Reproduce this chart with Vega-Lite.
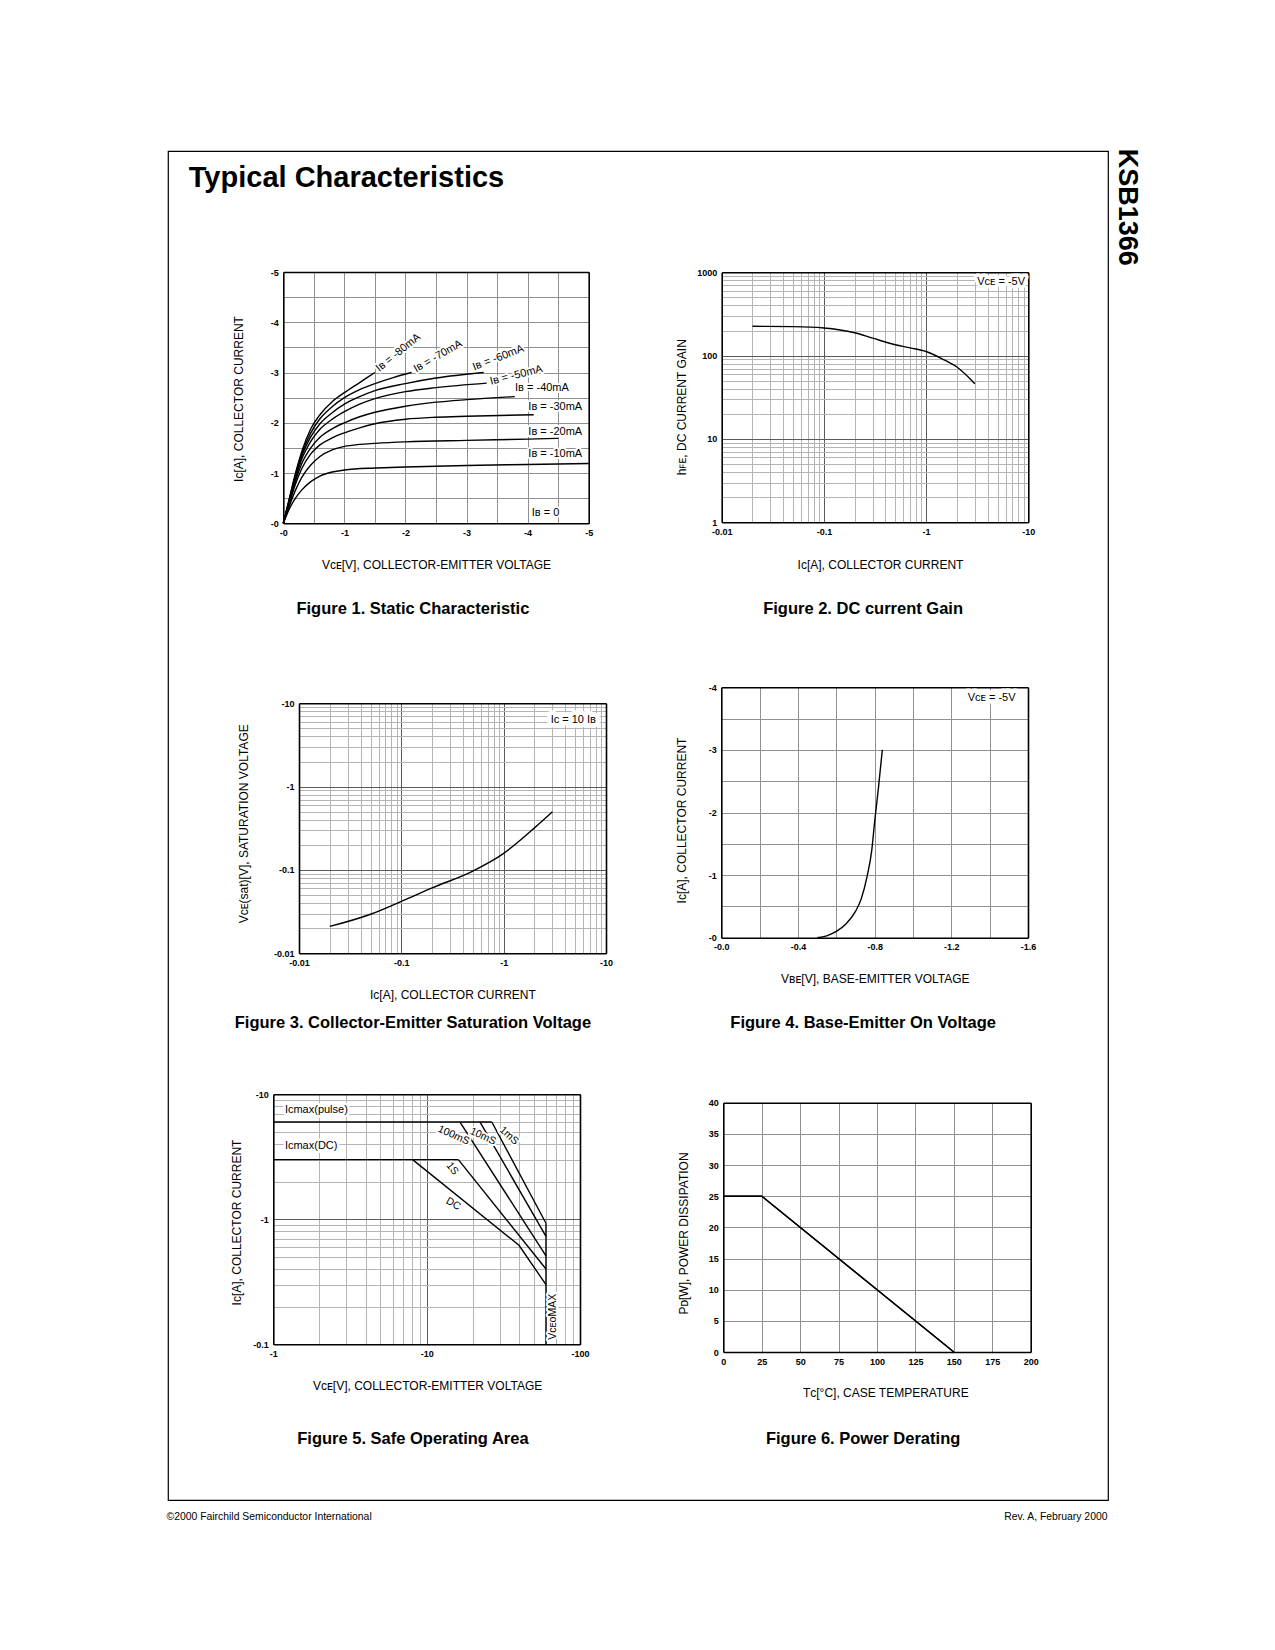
{
  "$schema": "https://vega.github.io/schema/vega-lite/v6.json",
  "width": 940,
  "height": 1349,
  "autosize": {"type": "none"},
  "padding": {"left": 168, "top": 151, "right": 167, "bottom": 150},
  "background": "white",
  "config": {
    "view": {"stroke": "black", "strokeWidth": 1.2},
    "font": "Liberation Sans",
    "axis": {
      "labelFont": "Liberation Sans", "labelFontSize": 9, "labelFontWeight": "bold", "labelColor": "black",
      "labelPadding": 5, "labelOverlap": false, "labelFlush": false, "labelBound": false,
      "titleFont": "Liberation Sans", "titleFontSize": 12, "titleFontWeight": "normal", "titleColor": "black",
      "titleLimit": 3000, "ticks": false, "domainColor": "black", "domainWidth": 1.6,
      "gridColor": "#909090", "gridWidth": 1, "gridOpacity": 1
    },
    "line": {"color": "black", "strokeWidth": 1.4},
    "text": {"font": "Liberation Sans", "color": "black"}
  },
  "datasets": {
    "static": [
      {"ib": "-10mA", "vce": 0, "ic": 0}, {"ib": "-10mA", "vce": -0.05, "ic": -0.15}, {"ib": "-10mA", "vce": -0.1, "ic": -0.29}, {"ib": "-10mA", "vce": -0.2, "ic": -0.5}, {"ib": "-10mA", "vce": -0.3, "ic": -0.66}, {"ib": "-10mA", "vce": -0.45, "ic": -0.83}, {"ib": "-10mA", "vce": -0.6, "ic": -0.94}, {"ib": "-10mA", "vce": -0.8, "ic": -1.02}, {"ib": "-10mA", "vce": -1, "ic": -1.06}, {"ib": "-10mA", "vce": -1.5, "ic": -1.1}, {"ib": "-10mA", "vce": -2, "ic": -1.12}, {"ib": "-10mA", "vce": -3, "ic": -1.15}, {"ib": "-10mA", "vce": -4, "ic": -1.17}, {"ib": "-10mA", "vce": -5, "ic": -1.19},
      {"ib": "-20mA", "vce": 0, "ic": 0}, {"ib": "-20mA", "vce": -0.05, "ic": -0.18}, {"ib": "-20mA", "vce": -0.1, "ic": -0.35}, {"ib": "-20mA", "vce": -0.2, "ic": -0.66}, {"ib": "-20mA", "vce": -0.3, "ic": -0.91}, {"ib": "-20mA", "vce": -0.45, "ic": -1.16}, {"ib": "-20mA", "vce": -0.6, "ic": -1.33}, {"ib": "-20mA", "vce": -0.8, "ic": -1.46}, {"ib": "-20mA", "vce": -1, "ic": -1.53}, {"ib": "-20mA", "vce": -1.25, "ic": -1.57}, {"ib": "-20mA", "vce": -1.5, "ic": -1.59}, {"ib": "-20mA", "vce": -2, "ic": -1.62}, {"ib": "-20mA", "vce": -3, "ic": -1.65}, {"ib": "-20mA", "vce": -4, "ic": -1.675}, {"ib": "-20mA", "vce": -4.5, "ic": -1.69},
      {"ib": "-30mA", "vce": 0, "ic": 0}, {"ib": "-30mA", "vce": -0.1, "ic": -0.4}, {"ib": "-30mA", "vce": -0.2, "ic": -0.78}, {"ib": "-30mA", "vce": -0.3, "ic": -1.08}, {"ib": "-30mA", "vce": -0.45, "ic": -1.38}, {"ib": "-30mA", "vce": -0.6, "ic": -1.56}, {"ib": "-30mA", "vce": -0.8, "ic": -1.7}, {"ib": "-30mA", "vce": -1, "ic": -1.8}, {"ib": "-30mA", "vce": -1.25, "ic": -1.9}, {"ib": "-30mA", "vce": -1.5, "ic": -1.98}, {"ib": "-30mA", "vce": -2, "ic": -2.07}, {"ib": "-30mA", "vce": -2.5, "ic": -2.11}, {"ib": "-30mA", "vce": -3, "ic": -2.13}, {"ib": "-30mA", "vce": -4.1, "ic": -2.16},
      {"ib": "-40mA", "vce": 0, "ic": 0}, {"ib": "-40mA", "vce": -0.1, "ic": -0.42}, {"ib": "-40mA", "vce": -0.2, "ic": -0.84}, {"ib": "-40mA", "vce": -0.3, "ic": -1.18}, {"ib": "-40mA", "vce": -0.45, "ic": -1.5}, {"ib": "-40mA", "vce": -0.6, "ic": -1.71}, {"ib": "-40mA", "vce": -0.8, "ic": -1.88}, {"ib": "-40mA", "vce": -1, "ic": -2.0}, {"ib": "-40mA", "vce": -1.25, "ic": -2.12}, {"ib": "-40mA", "vce": -1.5, "ic": -2.21}, {"ib": "-40mA", "vce": -2, "ic": -2.33}, {"ib": "-40mA", "vce": -2.5, "ic": -2.41}, {"ib": "-40mA", "vce": -3, "ic": -2.46}, {"ib": "-40mA", "vce": -3.79, "ic": -2.52},
      {"ib": "-50mA", "vce": 0, "ic": 0}, {"ib": "-50mA", "vce": -0.1, "ic": -0.45}, {"ib": "-50mA", "vce": -0.2, "ic": -0.89}, {"ib": "-50mA", "vce": -0.3, "ic": -1.27}, {"ib": "-50mA", "vce": -0.45, "ic": -1.63}, {"ib": "-50mA", "vce": -0.6, "ic": -1.87}, {"ib": "-50mA", "vce": -0.8, "ic": -2.07}, {"ib": "-50mA", "vce": -1, "ic": -2.22}, {"ib": "-50mA", "vce": -1.25, "ic": -2.37}, {"ib": "-50mA", "vce": -1.5, "ic": -2.48}, {"ib": "-50mA", "vce": -2, "ic": -2.62}, {"ib": "-50mA", "vce": -2.5, "ic": -2.7}, {"ib": "-50mA", "vce": -3.33, "ic": -2.79},
      {"ib": "-60mA", "vce": 0, "ic": 0}, {"ib": "-60mA", "vce": -0.1, "ic": -0.47}, {"ib": "-60mA", "vce": -0.2, "ic": -0.93}, {"ib": "-60mA", "vce": -0.3, "ic": -1.33}, {"ib": "-60mA", "vce": -0.45, "ic": -1.72}, {"ib": "-60mA", "vce": -0.6, "ic": -1.98}, {"ib": "-60mA", "vce": -0.8, "ic": -2.2}, {"ib": "-60mA", "vce": -1, "ic": -2.37}, {"ib": "-60mA", "vce": -1.25, "ic": -2.52}, {"ib": "-60mA", "vce": -1.5, "ic": -2.64}, {"ib": "-60mA", "vce": -2, "ic": -2.78}, {"ib": "-60mA", "vce": -2.5, "ic": -2.89}, {"ib": "-60mA", "vce": -3.28, "ic": -3.0},
      {"ib": "-70mA", "vce": 0, "ic": 0}, {"ib": "-70mA", "vce": -0.1, "ic": -0.48}, {"ib": "-70mA", "vce": -0.2, "ic": -0.96}, {"ib": "-70mA", "vce": -0.3, "ic": -1.38}, {"ib": "-70mA", "vce": -0.45, "ic": -1.8}, {"ib": "-70mA", "vce": -0.6, "ic": -2.08}, {"ib": "-70mA", "vce": -0.8, "ic": -2.32}, {"ib": "-70mA", "vce": -1, "ic": -2.5}, {"ib": "-70mA", "vce": -1.25, "ic": -2.66}, {"ib": "-70mA", "vce": -1.5, "ic": -2.78}, {"ib": "-70mA", "vce": -1.8, "ic": -2.9}, {"ib": "-70mA", "vce": -2.1, "ic": -3.0},
      {"ib": "-80mA", "vce": 0, "ic": 0}, {"ib": "-80mA", "vce": -0.1, "ic": -0.5}, {"ib": "-80mA", "vce": -0.2, "ic": -1.0}, {"ib": "-80mA", "vce": -0.3, "ic": -1.42}, {"ib": "-80mA", "vce": -0.45, "ic": -1.88}, {"ib": "-80mA", "vce": -0.6, "ic": -2.16}, {"ib": "-80mA", "vce": -0.8, "ic": -2.42}, {"ib": "-80mA", "vce": -1, "ic": -2.6}, {"ib": "-80mA", "vce": -1.25, "ic": -2.8}, {"ib": "-80mA", "vce": -1.5, "ic": -3.0}
    ],
    "hfe": [
      {"ic": -0.02, "hfe": 225}, {"ic": -0.05, "hfe": 223}, {"ic": -0.1, "hfe": 215}, {"ic": -0.2, "hfe": 188}, {"ic": -0.3, "hfe": 162}, {"ic": -0.5, "hfe": 135}, {"ic": -0.7, "hfe": 124}, {"ic": -1, "hfe": 112}, {"ic": -1.5, "hfe": 89}, {"ic": -2, "hfe": 73}, {"ic": -3, "hfe": 46}
    ],
    "vcesat": [
      {"ic": -0.02, "vce": -0.021}, {"ic": -0.05, "vce": -0.0294}, {"ic": -0.1, "vce": -0.042}, {"ic": -0.2, "vce": -0.061}, {"ic": -0.5, "vce": -0.097}, {"ic": -1, "vce": -0.158}, {"ic": -1.5, "vce": -0.235}, {"ic": -2, "vce": -0.32}, {"ic": -3, "vce": -0.5}
    ],
    "vbe": [
      {"vbe": -0.5, "ic": 0}, {"vbe": -0.55, "ic": -0.03}, {"vbe": -0.6, "ic": -0.1}, {"vbe": -0.65, "ic": -0.22}, {"vbe": -0.7, "ic": -0.42}, {"vbe": -0.73, "ic": -0.62}, {"vbe": -0.76, "ic": -0.97}, {"vbe": -0.785, "ic": -1.4}, {"vbe": -0.8, "ic": -1.85}, {"vbe": -0.82, "ic": -2.4}, {"vbe": -0.84, "ic": -3.0}
    ],
    "soa": [
      {"limit": "Icmax(pulse)", "vce": -1, "ic": -6}, {"limit": "Icmax(pulse)", "vce": -26.6, "ic": -6},
      {"limit": "1mS", "vce": -26.6, "ic": -6}, {"limit": "1mS", "vce": -60, "ic": -0.93},
      {"limit": "10mS", "vce": -22.3, "ic": -6}, {"limit": "10mS", "vce": -60, "ic": -0.73},
      {"limit": "100mS", "vce": -16.5, "ic": -6}, {"limit": "100mS", "vce": -60, "ic": -0.51},
      {"limit": "Icmax(DC)", "vce": -1, "ic": -3}, {"limit": "Icmax(DC)", "vce": -16.1, "ic": -3},
      {"limit": "1S", "vce": -16.1, "ic": -3}, {"limit": "1S", "vce": -60, "ic": -0.4},
      {"limit": "DC", "vce": -8.1, "ic": -3}, {"limit": "DC", "vce": -40, "ic": -0.62}, {"limit": "DC", "vce": -60, "ic": -0.3},
      {"limit": "VCEO MAX", "vce": -60, "ic": -0.93}, {"limit": "VCEO MAX", "vce": -60, "ic": -0.1}
    ],
    "pd": [
      {"tc": 0, "pd": 25}, {"tc": 25, "pd": 25}, {"tc": 150, "pd": 0}
    ]
  },
  "resolve": {"scale": {"x": "independent", "y": "independent"}},
  "layer": [
    {
      "resolve": {"axis": {"x": "independent", "y": "independent"}},
      "layer": [
        {
          "data": {"name": "static"},
          "mark": {"type": "line", "interpolate": "monotone"},
          "encoding": {
            "x": {"field": "vce", "type": "quantitative",
              "scale": {"domain": [0, -5], "range": [115.3, 420.7], "nice": false, "zero": false},
              "axis": {"orient": "top", "offset": -121, "values": [0, -0.5, -1, -1.5, -2, -2.5, -3, -3.5, -4, -4.5, -5], "grid": true, "labels": false,
                "title": "Figure 1. Static Characteristic", "titleX": 244.4, "titleY": 336, "titleAngle": 0, "titleAlign": "center", "titleBaseline": "middle", "titleFontSize": 16.5, "titleFontWeight": "bold"}},
            "y": {"field": "ic", "type": "quantitative",
              "scale": {"domain": [0, -5], "range": [372.3, 121], "nice": false, "zero": false},
              "axis": {"orient": "left", "offset": -115.3, "values": [0, -0.5, -1, -1.5, -2, -2.5, -3, -3.5, -4, -4.5, -5], "grid": true,
                "labelExpr": "datum.value % 1 == 0 ? '-' + abs(datum.value) : ''",
                "title": "Iᴄ[A], COLLECTOR CURRENT", "titleX": -45, "titleY": 247.5, "titleAngle": -90, "titleAlign": "center", "titleBaseline": "middle"}},
            "detail": {"field": "ib", "type": "nominal"}
          }
        },
        {
          "data": {"values": [
            {"label": "Iʙ = -40mA", "vce": -3.794, "ic": -2.686},
            {"label": "Iʙ = -30mA", "vce": -4.012, "ic": -2.32},
            {"label": "Iʙ = -20mA", "vce": -4.012, "ic": -1.822},
            {"label": "Iʙ = -10mA", "vce": -4.012, "ic": -1.379},
            {"label": "Iʙ = 0", "vce": -4.067, "ic": -0.199}
          ]},
          "encoding": {
            "x": {"field": "vce", "type": "quantitative",
              "axis": {"orient": "bottom", "offset": -976.7, "values": [0, -1, -2, -3, -4, -5], "grid": false, "labelExpr": "'-' + abs(datum.value)",
                "title": "Vᴄᴇ[V], COLLECTOR-EMITTER VOLTAGE", "titleX": 268, "titleY": 40.7, "titleAlign": "center", "titleBaseline": "middle"}},
            "y": {"field": "ic", "type": "quantitative",
              "axis": {"orient": "right", "offset": -519.3, "values": [], "grid": false, "labels": false,
                "title": "Typical Characteristics", "titleX": -400.4, "titleY": 35, "titleAngle": 0, "titleAlign": "left", "titleBaseline": "alphabetic", "titleFontSize": 29, "titleFontWeight": "bold"}},
            "text": {"field": "label", "type": "nominal"}
          },
          "layer": [
            {"mark": {"type": "text", "align": "left", "baseline": "middle", "fontSize": 11, "stroke": "white", "strokeWidth": 4, "strokeJoin": "round"}},
            {"mark": {"type": "text", "align": "left", "baseline": "middle", "fontSize": 11}}
          ]
        },
        {
          "data": {"values": [{"label": "Iʙ = -80mA", "vce": -1.883, "ic": -3.394}]},
          "encoding": {"x": {"field": "vce", "type": "quantitative", "axis": null}, "y": {"field": "ic", "type": "quantitative", "axis": null}, "text": {"field": "label", "type": "nominal"}},
          "layer": [
            {"mark": {"type": "text", "angle": -39, "fontSize": 11, "stroke": "white", "strokeWidth": 4, "strokeJoin": "round"}},
            {"mark": {"type": "text", "angle": -39, "fontSize": 11}}
          ]
        },
        {
          "data": {"values": [{"label": "Iʙ = -70mA", "vce": -2.533, "ic": -3.322}]},
          "encoding": {"x": {"field": "vce", "type": "quantitative", "axis": null}, "y": {"field": "ic", "type": "quantitative", "axis": null}, "text": {"field": "label", "type": "nominal"}},
          "layer": [
            {"mark": {"type": "text", "angle": -30, "fontSize": 11, "stroke": "white", "strokeWidth": 4, "strokeJoin": "round"}},
            {"mark": {"type": "text", "angle": -30, "fontSize": 11}}
          ]
        },
        {
          "data": {"values": [{"label": "Iʙ = -60mA", "vce": -3.52, "ic": -3.29}]},
          "encoding": {"x": {"field": "vce", "type": "quantitative", "axis": null}, "y": {"field": "ic", "type": "quantitative", "axis": null}, "text": {"field": "label", "type": "nominal"}},
          "layer": [
            {"mark": {"type": "text", "angle": -21, "fontSize": 11, "stroke": "white", "strokeWidth": 4, "strokeJoin": "round"}},
            {"mark": {"type": "text", "angle": -21, "fontSize": 11}}
          ]
        },
        {
          "data": {"values": [{"label": "Iʙ = -50mA", "vce": -3.815, "ic": -2.944}]},
          "encoding": {"x": {"field": "vce", "type": "quantitative", "axis": null}, "y": {"field": "ic", "type": "quantitative", "axis": null}, "text": {"field": "label", "type": "nominal"}},
          "layer": [
            {"mark": {"type": "text", "angle": -14, "fontSize": 11, "stroke": "white", "strokeWidth": 4, "strokeJoin": "round"}},
            {"mark": {"type": "text", "angle": -14, "fontSize": 11}}
          ]
        }
      ]
    },
    {
      "resolve": {"axis": {"x": "independent", "y": "independent"}},
      "layer": [
        {
          "data": {"name": "hfe"},
          "mark": {"type": "line", "interpolate": "monotone"},
          "encoding": {
            "x": {"field": "ic", "type": "quantitative",
              "scale": {"type": "log", "domain": [-0.01, -10], "range": [553.7, 860.3], "nice": false},
              "axis": {"orient": "top", "offset": -121.3, "values": [-0.01, -0.02, -0.03, -0.04, -0.05, -0.06, -0.07, -0.08, -0.09, -0.1, -0.2, -0.3, -0.4, -0.5, -0.6, -0.7, -0.8, -0.9, -1, -2, -3, -4, -5, -6, -7, -8, -9, -10],
                "grid": true, "gridColor": {"condition": {"test": "indexof([-0.01, -0.1, -1, -10], datum.value) >= 0", "value": "#5a5a5a"}, "value": "#b4b4b4"}, "labels": false,
                "title": "Figure 2. DC current Gain", "titleX": 694.6, "titleY": 335.7, "titleAngle": 0, "titleAlign": "center", "titleBaseline": "middle", "titleFontSize": 16.5, "titleFontWeight": "bold"}},
            "y": {"field": "hfe", "type": "quantitative",
              "scale": {"type": "log", "domain": [1, 1000], "range": [371.3, 121.3], "nice": false},
              "axis": {"orient": "left", "offset": -553.7, "values": [1, 2, 3, 4, 5, 6, 7, 8, 9, 10, 20, 30, 40, 50, 60, 70, 80, 90, 100, 200, 300, 400, 500, 600, 700, 800, 900, 1000],
                "grid": true, "gridColor": {"condition": {"test": "indexof([1, 10, 100, 1000], datum.value) >= 0", "value": "#5a5a5a"}, "value": "#b4b4b4"},
                "labelExpr": "indexof([1, 10, 100, 1000], datum.value) >= 0 ? '' + datum.value : ''",
                "title": "hꜰᴇ, DC CURRENT GAIN", "titleX": -40, "titleY": 255.7, "titleAngle": -90, "titleAlign": "center", "titleBaseline": "middle"}}
          }
        },
        {
          "data": {"values": [{"label": "Vᴄᴇ = -5V", "ic": -9.3, "hfe": 771}]},
          "encoding": {
            "x": {"field": "ic", "type": "quantitative",
              "axis": {"orient": "bottom", "offset": -977.7, "values": [-0.01, -0.1, -1, -10], "grid": false, "labelExpr": "'-' + abs(datum.value)",
                "title": "Iᴄ[A], COLLECTOR CURRENT", "titleX": 712, "titleY": 41.7, "titleAlign": "center", "titleBaseline": "middle"}},
            "y": {"field": "hfe", "type": "quantitative",
              "axis": {"orient": "right", "offset": -79.7, "values": [], "grid": false, "labels": false,
                "title": "KSB1366", "titleX": 98.4, "titleY": 55.7, "titleAngle": 90, "titleAlign": "center", "titleBaseline": "middle", "titleFontSize": 27, "titleFontWeight": "bold"}},
            "text": {"field": "label", "type": "nominal"}
          },
          "layer": [
            {"mark": {"type": "text", "align": "right", "baseline": "middle", "fontSize": 11, "stroke": "white", "strokeWidth": 7, "strokeJoin": "round"}},
            {"mark": {"type": "text", "align": "right", "baseline": "middle", "fontSize": 11}}
          ]
        }
      ]
    },
    {
      "resolve": {"axis": {"x": "independent", "y": "independent"}},
      "layer": [
        {
          "data": {"name": "vcesat"},
          "mark": {"type": "line", "interpolate": "monotone"},
          "encoding": {
            "x": {"field": "ic", "type": "quantitative",
              "scale": {"type": "log", "domain": [-0.01, -10], "range": [131, 438], "nice": false},
              "axis": {"orient": "top", "offset": -552.3, "values": [-0.01, -0.02, -0.03, -0.04, -0.05, -0.06, -0.07, -0.08, -0.09, -0.1, -0.2, -0.3, -0.4, -0.5, -0.6, -0.7, -0.8, -0.9, -1, -2, -3, -4, -5, -6, -7, -8, -9, -10],
                "grid": true, "gridColor": {"condition": {"test": "indexof([-0.01, -0.1, -1, -10], datum.value) >= 0", "value": "#5a5a5a"}, "value": "#b4b4b4"}, "labels": false,
                "title": "Figure 3. Collector-Emitter Saturation Voltage", "titleX": 244.4, "titleY": 319.2, "titleAngle": 0, "titleAlign": "center", "titleBaseline": "middle", "titleFontSize": 16.5, "titleFontWeight": "bold"}},
            "y": {"field": "vce", "type": "quantitative",
              "scale": {"type": "log", "domain": [-0.01, -10], "range": [802.3, 552.3], "nice": false},
              "axis": {"orient": "left", "offset": -131, "values": [-0.01, -0.02, -0.03, -0.04, -0.05, -0.06, -0.07, -0.08, -0.09, -0.1, -0.2, -0.3, -0.4, -0.5, -0.6, -0.7, -0.8, -0.9, -1, -2, -3, -4, -5, -6, -7, -8, -9, -10],
                "grid": true, "gridColor": {"condition": {"test": "indexof([-0.01, -0.1, -1, -10], datum.value) >= 0", "value": "#5a5a5a"}, "value": "#b4b4b4"},
                "labelExpr": "indexof([-0.01, -0.1, -1, -10], datum.value) >= 0 ? '-' + abs(datum.value) : ''",
                "title": "Vᴄᴇ(sat)[V], SATURATION VOLTAGE", "titleX": -55.7, "titleY": 672.3, "titleAngle": -90, "titleAlign": "center", "titleBaseline": "middle"}}
          }
        },
        {
          "data": {"values": [{"label": "Iᴄ = 10 Iʙ", "ic": -4.79, "vce": -6.31}]},
          "encoding": {
            "x": {"field": "ic", "type": "quantitative",
              "axis": {"orient": "bottom", "offset": -546.7, "values": [-0.01, -0.1, -1, -10], "grid": false, "labelExpr": "'-' + abs(datum.value)",
                "title": "Iᴄ[A], COLLECTOR CURRENT", "titleX": 284.4, "titleY": 40.9, "titleAlign": "center", "titleBaseline": "middle"}},
            "y": {"field": "vce", "type": "quantitative",
              "axis": {"orient": "right", "offset": -502, "values": [], "grid": false, "labels": false, "title": null}},
            "text": {"field": "label", "type": "nominal"}
          },
          "layer": [
            {"mark": {"type": "text", "align": "center", "baseline": "middle", "fontSize": 11, "stroke": "white", "strokeWidth": 9, "strokeJoin": "round"}},
            {"mark": {"type": "text", "align": "center", "baseline": "middle", "fontSize": 11}}
          ]
        }
      ]
    },
    {
      "resolve": {"axis": {"x": "independent", "y": "independent"}},
      "layer": [
        {
          "data": {"name": "vbe"},
          "mark": {"type": "line", "interpolate": "monotone"},
          "encoding": {
            "x": {"field": "vbe", "type": "quantitative",
              "scale": {"domain": [0, -1.6], "range": [553.3, 860], "nice": false, "zero": false},
              "axis": {"orient": "top", "offset": -536.3, "values": [0, -0.2, -0.4, -0.6, -0.8, -1.0, -1.2, -1.4, -1.6], "grid": true, "labels": false,
                "title": "Figure 4. Base-Emitter On Voltage", "titleX": 694.6, "titleY": 335.2, "titleAngle": 0, "titleAlign": "center", "titleBaseline": "middle", "titleFontSize": 16.5, "titleFontWeight": "bold"}},
            "y": {"field": "ic", "type": "quantitative",
              "scale": {"domain": [0, -4], "range": [786.7, 536.3], "nice": false, "zero": false},
              "axis": {"orient": "left", "offset": -553.3, "values": [0, -0.5, -1, -1.5, -2, -2.5, -3, -3.5, -4], "grid": true,
                "labelExpr": "datum.value % 1 == 0 ? '-' + abs(datum.value) : ''",
                "title": "Iᴄ[A], COLLECTOR CURRENT", "titleX": -39.6, "titleY": 669, "titleAngle": -90, "titleAlign": "center", "titleBaseline": "middle"}}
          }
        },
        {
          "data": {"values": [{"label": "Vᴄᴇ = -5V", "vbe": -1.41, "ic": -3.83}]},
          "encoding": {
            "x": {"field": "vbe", "type": "quantitative",
              "axis": {"orient": "bottom", "offset": -562.3, "values": [0, -0.4, -0.8, -1.2, -1.6], "grid": false, "labelExpr": "'-' + format(abs(datum.value), '.1f')",
                "title": "Vʙᴇ[V], BASE-EMITTER VOLTAGE", "titleX": 706.8, "titleY": 40.7, "titleAlign": "center", "titleBaseline": "middle"}},
            "y": {"field": "ic", "type": "quantitative",
              "axis": {"orient": "right", "offset": -80, "values": [], "grid": false, "labels": false, "title": null}},
            "text": {"field": "label", "type": "nominal"}
          },
          "layer": [
            {"mark": {"type": "text", "align": "center", "baseline": "middle", "fontSize": 11, "stroke": "white", "strokeWidth": 9, "strokeJoin": "round"}},
            {"mark": {"type": "text", "align": "center", "baseline": "middle", "fontSize": 11}}
          ]
        }
      ]
    },
    {
      "resolve": {"axis": {"x": "independent", "y": "independent"}},
      "layer": [
        {
          "data": {"name": "soa"},
          "mark": {"type": "line", "interpolate": "linear"},
          "encoding": {
            "x": {"field": "vce", "type": "quantitative",
              "scale": {"type": "log", "domain": [-1, -100], "range": [105.3, 412], "nice": false},
              "axis": {"orient": "top", "offset": -943.3, "values": [-1, -2, -3, -4, -5, -6, -7, -8, -9, -10, -20, -30, -40, -50, -60, -70, -80, -90, -100],
                "grid": true, "gridColor": {"condition": {"test": "indexof([-1, -10, -100], datum.value) >= 0", "value": "#5a5a5a"}, "value": "#b4b4b4"}, "labels": false,
                "title": "Figure 5. Safe Operating Area", "titleX": 244.4, "titleY": 343.7, "titleAngle": 0, "titleAlign": "center", "titleBaseline": "middle", "titleFontSize": 16.5, "titleFontWeight": "bold"}},
            "y": {"field": "ic", "type": "quantitative",
              "scale": {"type": "log", "domain": [-0.1, -10], "range": [1193.3, 943.3], "nice": false},
              "axis": {"orient": "left", "offset": -105.3, "values": [-0.1, -0.2, -0.3, -0.4, -0.5, -0.6, -0.7, -0.8, -0.9, -1, -2, -3, -4, -5, -6, -7, -8, -9, -10],
                "grid": true, "gridColor": {"condition": {"test": "indexof([-0.1, -1, -10], datum.value) >= 0", "value": "#5a5a5a"}, "value": "#b4b4b4"},
                "labelExpr": "indexof([-0.1, -1, -10], datum.value) >= 0 ? '-' + abs(datum.value) : ''",
                "title": "Iᴄ[A], COLLECTOR CURRENT", "titleX": -36.6, "titleY": 1071, "titleAngle": -90, "titleAlign": "center", "titleBaseline": "middle"}},
            "detail": {"field": "limit", "type": "nominal"}
          }
        },
        {
          "data": {"values": [
            {"label": "Iᴄmax(pulse)", "vce": -1.19, "ic": -7.48},
            {"label": "Iᴄmax(DC)", "vce": -1.19, "ic": -3.88}
          ]},
          "encoding": {
            "x": {"field": "vce", "type": "quantitative",
              "axis": {"orient": "bottom", "offset": -155.7, "values": [-1, -10, -100], "grid": false, "labelExpr": "'-' + abs(datum.value)",
                "title": "Vᴄᴇ[V], COLLECTOR-EMITTER VOLTAGE", "titleX": 259.1, "titleY": 41.2, "titleAlign": "center", "titleBaseline": "middle"}},
            "y": {"field": "ic", "type": "quantitative",
              "axis": {"orient": "right", "offset": -528, "values": [], "grid": false, "labels": false,
                "title": "©2000 Fairchild Semiconductor International", "titleX": -414, "titleY": 1365.7, "titleAngle": 0, "titleAlign": "left", "titleBaseline": "middle", "titleFontSize": 10.4}},
            "text": {"field": "label", "type": "nominal"}
          },
          "layer": [
            {"mark": {"type": "text", "align": "left", "baseline": "middle", "fontSize": 11, "stroke": "white", "strokeWidth": 5, "strokeJoin": "round"}},
            {"mark": {"type": "text", "align": "left", "baseline": "middle", "fontSize": 11}}
          ]
        },
        {
          "data": {"values": [{"label": "100mS", "vce": -15.0, "ic": -4.7}]},
          "encoding": {"x": {"field": "vce", "type": "quantitative", "axis": null}, "y": {"field": "ic", "type": "quantitative", "axis": null}, "text": {"field": "label", "type": "nominal"}},
          "layer": [
            {"mark": {"type": "text", "angle": 24, "fontSize": 10.5, "stroke": "white", "strokeWidth": 4, "strokeJoin": "round"}},
            {"mark": {"type": "text", "angle": 24, "fontSize": 10.5}}
          ]
        },
        {
          "data": {"values": [{"label": "10mS", "vce": -23.3, "ic": -4.6}]},
          "encoding": {"x": {"field": "vce", "type": "quantitative", "axis": null}, "y": {"field": "ic", "type": "quantitative", "axis": null}, "text": {"field": "label", "type": "nominal"}},
          "layer": [
            {"mark": {"type": "text", "angle": 25, "fontSize": 10.5, "stroke": "white", "strokeWidth": 4, "strokeJoin": "round"}},
            {"mark": {"type": "text", "angle": 25, "fontSize": 10.5}}
          ]
        },
        {
          "data": {"values": [{"label": "1mS", "vce": -34.4, "ic": -4.67}]},
          "encoding": {"x": {"field": "vce", "type": "quantitative", "axis": null}, "y": {"field": "ic", "type": "quantitative", "axis": null}, "text": {"field": "label", "type": "nominal"}},
          "layer": [
            {"mark": {"type": "text", "angle": 42, "fontSize": 10.5, "stroke": "white", "strokeWidth": 4, "strokeJoin": "round"}},
            {"mark": {"type": "text", "angle": 42, "fontSize": 10.5}}
          ]
        },
        {
          "data": {"values": [{"label": "1S", "vce": -14.7, "ic": -2.54}]},
          "encoding": {"x": {"field": "vce", "type": "quantitative", "axis": null}, "y": {"field": "ic", "type": "quantitative", "axis": null}, "text": {"field": "label", "type": "nominal"}},
          "layer": [
            {"mark": {"type": "text", "angle": 52, "fontSize": 10.5, "stroke": "white", "strokeWidth": 4, "strokeJoin": "round"}},
            {"mark": {"type": "text", "angle": 52, "fontSize": 10.5}}
          ]
        },
        {
          "data": {"values": [{"label": "DC", "vce": -14.9, "ic": -1.33}]},
          "encoding": {"x": {"field": "vce", "type": "quantitative", "axis": null}, "y": {"field": "ic", "type": "quantitative", "axis": null}, "text": {"field": "label", "type": "nominal"}},
          "layer": [
            {"mark": {"type": "text", "angle": 30, "fontSize": 10.5, "stroke": "white", "strokeWidth": 4, "strokeJoin": "round"}},
            {"mark": {"type": "text", "angle": 30, "fontSize": 10.5}}
          ]
        },
        {
          "data": {"values": [{"label": "VᴄᴇᴏMAX", "vce": -67, "ic": -0.166}]},
          "encoding": {"x": {"field": "vce", "type": "quantitative", "axis": null}, "y": {"field": "ic", "type": "quantitative", "axis": null}, "text": {"field": "label", "type": "nominal"}},
          "layer": [
            {"mark": {"type": "text", "angle": -90, "fontSize": 10.5, "stroke": "white", "strokeWidth": 4, "strokeJoin": "round"}},
            {"mark": {"type": "text", "angle": -90, "fontSize": 10.5}}
          ]
        }
      ]
    },
    {
      "resolve": {"axis": {"x": "independent", "y": "independent"}},
      "layer": [
        {
          "data": {"name": "pd"},
          "mark": {"type": "line", "interpolate": "linear"},
          "encoding": {
            "x": {"field": "tc", "type": "quantitative",
              "scale": {"domain": [0, 200], "range": [555.3, 862.7], "nice": false, "zero": false},
              "axis": {"orient": "top", "offset": -951.7, "values": [0, 25, 50, 75, 100, 125, 150, 175, 200], "grid": true, "labels": false,
                "title": "Figure 6. Power Derating", "titleX": 694.6, "titleY": 335.3, "titleAngle": 0, "titleAlign": "center", "titleBaseline": "middle", "titleFontSize": 16.5, "titleFontWeight": "bold"}},
            "y": {"field": "pd", "type": "quantitative",
              "scale": {"domain": [0, 40], "range": [1201, 951.7], "nice": false, "zero": false},
              "axis": {"orient": "left", "offset": -555.3, "values": [0, 5, 10, 15, 20, 25, 30, 35, 40], "grid": true,
                "title": "Pᴅ[W], POWER DISSIPATION", "titleX": -40, "titleY": 1082, "titleAngle": -90, "titleAlign": "center", "titleBaseline": "middle"}}
          }
        },
        {
          "data": {"name": "pd"},
          "mark": {"type": "line", "interpolate": "linear"},
          "encoding": {
            "x": {"field": "tc", "type": "quantitative",
              "axis": {"orient": "bottom", "offset": -148, "values": [0, 25, 50, 75, 100, 125, 150, 175, 200], "grid": false,
                "title": "Tᴄ[°C], CASE TEMPERATURE", "titleX": 717.3, "titleY": 40.8, "titleAlign": "center", "titleBaseline": "middle"}},
            "y": {"field": "pd", "type": "quantitative",
              "axis": {"orient": "right", "offset": -77.3, "values": [], "grid": false, "labels": false,
                "title": "Rev. A, February 2000", "titleX": 76.3, "titleY": 1365.7, "titleAngle": 0, "titleAlign": "right", "titleBaseline": "middle", "titleFontSize": 10.4}}
          }
        }
      ]
    }
  ]
}
